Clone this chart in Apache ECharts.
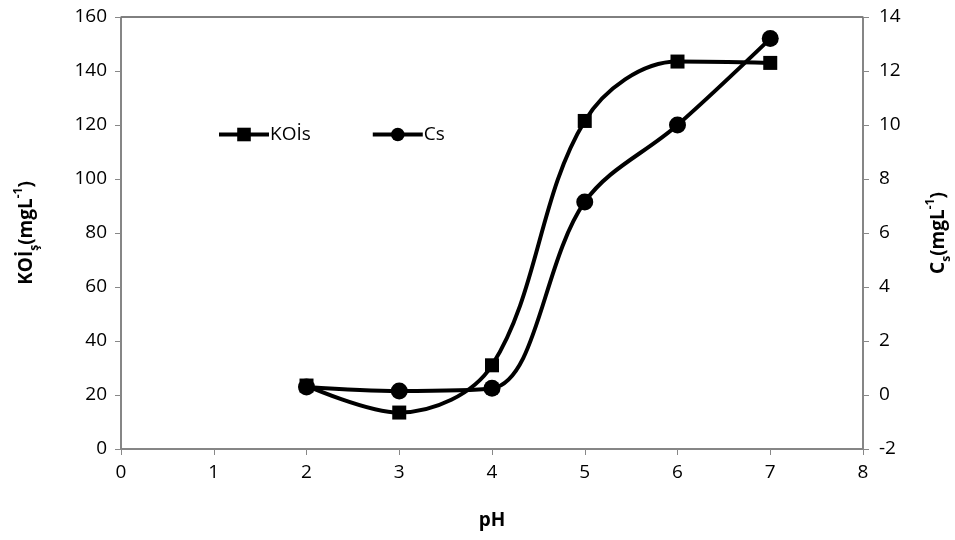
<!DOCTYPE html>
<html>
<head>
<meta charset="utf-8">
<script src="https://cdn.jsdelivr.net/npm/echarts@6/dist/echarts.min.js"></script>
<style>
  html, body { margin: 0; padding: 0; background: #fff; }
  #main { width: 955px; height: 540px; }
</style>
</head>
<body>
<div id="main"></div>
<script>
// pH values on the x axis
var phValues = [2, 3, 4, 5, 6, 7];
// KOİs (left axis, mgL-1)
var koiValues = [23.5, 13.5, 31, 121.5, 143.5, 143];
// Cs (right axis, mgL-1)
var csValues = [0.3, 0.15, 0.25, 7.15, 10, 13.2];

var fontName = "'Open Sans', 'Noto Sans', sans-serif";

function pairs(xs, ys) {
  return xs.map(function (x, i) {
    return [x, ys[i]];
  });
}

// rich styles for sub/superscript in the axis names
var nameRich = {
  a: { fontSize: 19, fontWeight: "bold", lineHeight: 28, verticalAlign: "middle" },
  b: { fontSize: 12, fontWeight: "bold", lineHeight: 28, verticalAlign: "bottom" },
  c: { fontSize: 12, fontWeight: "bold", lineHeight: 28, verticalAlign: "top" },
};

var myChart = echarts.init(document.getElementById("main"));
var option = {
  animation: false,
  textStyle: { fontFamily: fontName, color: "#000" },
  grid: {
    left: 121,
    right: 92,
    top: 17,
    bottom: 91,
    outerBoundsMode: "none",
    containLabel: false,
    show: true,
    borderColor: "#000",
    borderWidth: 1,
  },
  legend: {
    left: 212,
    top: 120,
    itemWidth: 50,
    itemHeight: 17,
    itemGap: 60,
    lineStyle: { width: 4 },
    textStyle: { fontSize: 19, fontFamily: fontName, color: "#000", padding: [0, 0, 0, -4] },
    data: ["KOİs", "Cs"],
  },
  xAxis: {
    type: "value",
    min: 0,
    max: 8,
    interval: 1,
    name: "pH",
    nameLocation: "middle",
    nameGap: 62,
    nameTextStyle: { fontSize: 19, fontWeight: "bold", color: "#000" },
    axisLine: { lineStyle: { color: "#888", width: 1.5 } },
    axisTick: { length: 6, lineStyle: { color: "#888" } },
    axisLabel: { fontSize: 19, color: "#000", margin: 14 },
    splitLine: { show: false },
  },
  yAxis: [
    {
      type: "value",
      min: 0,
      max: 160,
      interval: 20,
      position: "left",
      name: "{a|KOİ}{b|ş}{a|(mgL}{c|-1}{a|)}",
      nameLocation: "middle",
      nameGap: 80,
      nameTextStyle: { fontSize: 19, fontWeight: "bold", color: "#000", rich: nameRich },
      axisLine: { show: true, lineStyle: { color: "#888", width: 1.5 } },
      axisTick: { show: true, length: 6, lineStyle: { color: "#888" } },
      axisLabel: { fontSize: 19, color: "#000", margin: 14 },
      splitLine: { show: false },
    },
    {
      type: "value",
      min: -2,
      max: 14,
      interval: 2,
      position: "right",
      name: "{a|C}{b|s}{a|(mgL}{c|-1}{a|)}",
      nameLocation: "middle",
      nameGap: 62,
      nameTextStyle: { fontSize: 19, fontWeight: "bold", color: "#000", rich: nameRich },
      axisLine: { show: true, lineStyle: { color: "#888", width: 1.5 } },
      axisTick: { show: true, length: 6, lineStyle: { color: "#888" } },
      axisLabel: { fontSize: 19, color: "#000", margin: 16 },
      splitLine: { show: false },
    },
  ],
  series: [
    {
      name: "KOİs",
      type: "line",
      yAxisIndex: 0,
      smooth: 0.35,
      symbol: "rect",
      symbolSize: 14,
      lineStyle: { color: "#000", width: 4 },
      itemStyle: { color: "#000" },
      data: pairs(phValues, koiValues),
    },
    {
      name: "Cs",
      type: "line",
      yAxisIndex: 1,
      smooth: 0.35,
      symbol: "circle",
      symbolSize: 17,
      lineStyle: { color: "#000", width: 4 },
      itemStyle: { color: "#000" },
      data: pairs(phValues, csValues),
    },
  ],
};
myChart.setOption(option);
</script>
</body>
</html>
